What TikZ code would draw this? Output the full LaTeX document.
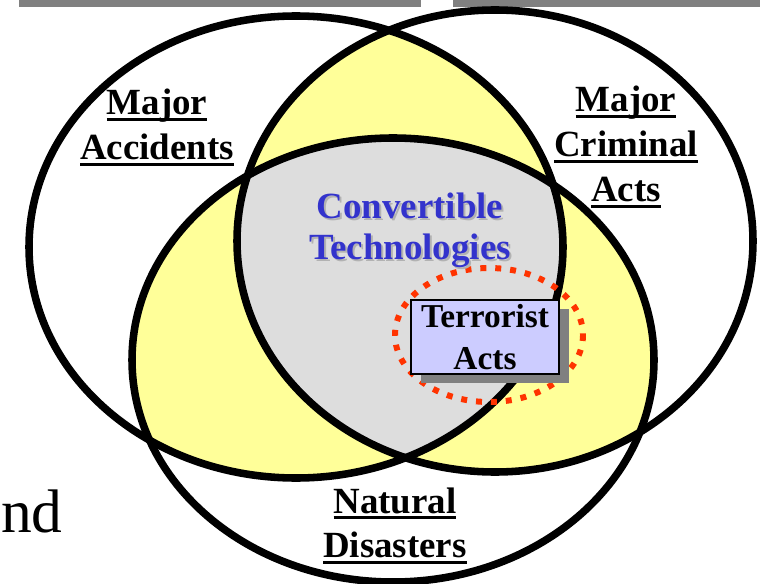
\documentclass[tikz,border=0pt]{standalone}
\usepackage{fontspec}
\setmainfont{Liberation Serif}
\usepackage{tikz}
\usetikzlibrary{shadows}
\definecolor{venyellow}{HTML}{FFFF99}
\definecolor{vengray}{HTML}{DDDDDD}
\definecolor{techblue}{HTML}{3333CC}
\definecolor{dotred}{HTML}{FF3300}
\definecolor{boxblue}{HTML}{CCCCFF}
\definecolor{bargray}{HTML}{808080}
\setlength{\tabcolsep}{0pt}
% underlined label line
\newcommand{\ulabel}[1]{\setbox0=\hbox{#1}\rlap{\rule[-3.4pt]{\wd0}{1.7pt}}\box0}
\tikzset{
    font={\fontsize{21pt}{25.5pt}\selectfont\bfseries},
    venn/.style={
           draw=black,
           line width=4.3pt,
           },
    vlabel/.style={
           anchor=base,
           inner sep=0pt,
           text=black,
           },
    techtext/.style={
           anchor=base,
           inner sep=0pt,
           font={\fontsize{21pt}{23.8pt}\selectfont\bfseries},
           },
    terrorbox/.style={
           rectangle,
           draw=black, line width=1.6pt,
           fill=boxblue,
           minimum width=2.96cm,
           minimum height=1.48cm,
           inner sep=0pt,
           align=center,
           font={\fontsize{19pt}{23.8pt}\selectfont\bfseries},
           drop shadow={shadow xshift=0.2cm, shadow yshift=-0.18cm, fill=bargray, opacity=1},
           },
}

\begin{document}
\begin{tikzpicture}[x=0.02cm,y=-0.02cm]
\useasboundingbox (0,0) rectangle (760,584);

% top bars
\fill[bargray] (19,0) rectangle (421,7);
\fill[bargray] (453,0) rectangle (760,7);

\coordinate (ACC) at (296,247);
\coordinate (CRIM) at (495,241);
\coordinate (NAT) at (393,360);
\coordinate (TERR) at (489,335);

% pairwise overlaps
\begin{scope}
  \clip (CRIM) ellipse [x radius=258, y radius=231];
  \fill[venyellow] (NAT) ellipse [x radius=261, y radius=222];
\end{scope}
\begin{scope}
  \clip (ACC) ellipse [x radius=267, y radius=231];
  \fill[venyellow] (CRIM) ellipse [x radius=258, y radius=231];
  \fill[venyellow] (NAT) ellipse [x radius=261, y radius=222];
  % all three
  \clip (CRIM) ellipse [x radius=258, y radius=231];
  \fill[vengray] (NAT) ellipse [x radius=261, y radius=222];
\end{scope}

\draw[venn] (ACC) ellipse [x radius=267, y radius=231];
\draw[venn] (CRIM) ellipse [x radius=258, y radius=231];
\draw[venn] (NAT) ellipse [x radius=261, y radius=222];

% dotted ring
\draw[dotred, line width=3.4pt, dash pattern=on 3.4pt off 5.1pt] (TERR) ellipse [x radius=94, y radius=67];

\node[terrorbox] (TERRORIST) at (485,337) {Terrorist\\Acts};

\node[vlabel] (ACCIDENTS) at (157,115) {%
    \begin{tabular}[t]{c}
        \ulabel{Major}\\\ulabel{Accidents}
    \end{tabular}
};

\node[vlabel] (CRIMINAL) at (626,112) {%
    \begin{tabular}[t]{c}
        \ulabel{Major}\\\ulabel{Criminal}\\\ulabel{Acts}
    \end{tabular}
};

\node[vlabel] (DISASTERS) at (395,513) {%
    \begin{tabular}[t]{c}
        \ulabel{Natural}\\\ulabel{Disasters}
    \end{tabular}
};

\node[techtext, text=gray!60] (TECHSHADOW) at (412,220) {%
    \begin{tabular}[t]{c}
        Convertible\\Technologies
    \end{tabular}
};
\node[techtext, text=techblue] (TECH) at (410,218) {%
    \begin{tabular}[t]{c}
        Convertible\\Technologies
    \end{tabular}
};

\node[font={\fontsize{35pt}{40pt}\selectfont}, anchor=base east, inner sep=0pt] (AND) at (63,532) {and};

\end{tikzpicture}
\end{document}
